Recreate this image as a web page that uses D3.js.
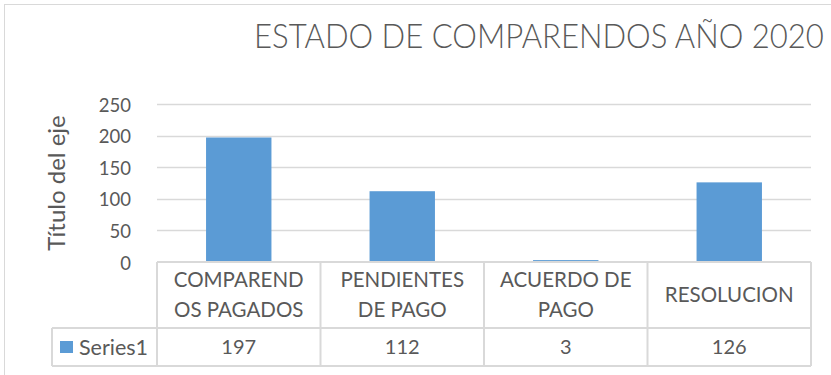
<!DOCTYPE html>
<html>
<head>
<meta charset="utf-8">
<script src="https://cdn.jsdelivr.net/npm/d3@7/dist/d3.min.js"></script>
<style>
  html, body { margin: 0; padding: 0; background: #ffffff; }
  svg { display: block; }
  text { font-family: Lato, "Open Sans", sans-serif; fill: #595959; }
</style>
</head>
<body>
<svg id="chart" width="831" height="375"></svg>
<script>
// Chart data
const categories = ["COMPARENDOS PAGADOS", "PENDIENTES DE PAGO", "ACUERDO DE PAGO", "RESOLUCION"];
const categoryLines = [["COMPAREND", "OS PAGADOS"], ["PENDIENTES", "DE PAGO"], ["ACUERDO DE", "PAGO"], ["RESOLUCION"]];
const seriesName = "Series1";
const values = [197, 112, 3, 126];
const yTicks = [0, 50, 100, 150, 200, 250];
const chartTitle = "ESTADO DE COMPARENDOS AÑO 2020";
const yAxisTitle = "Título del eje";

const svg = d3.select("#chart");
const gridColor = "#d9d9d9";
const barColor = "#5b9bd5";

// Outer chart frame (continues past the visible area on the right and bottom)
svg.append("rect")
  .attr("x", 4.5).attr("y", 4.5)
  .attr("width", 900).attr("height", 420)
  .attr("fill", "#ffffff")
  .attr("stroke", gridColor).attr("stroke-width", 1);

// Plot area
const plotLeft = 157, plotRight = 811, plotTop = 104, plotBottom = 262;

const x = d3.scaleBand().domain(categories).range([plotLeft, plotRight]).paddingInner(0).paddingOuter(0);
const y = d3.scaleLinear().domain([0, 250]).range([plotBottom, plotTop]);

// Title: condensed horizontally so it spans the available width
const titleLeft = 254, titleWidth = 570;
const titleG = svg.append("g");
const titleText = titleG.append("text")
  .attr("x", 0).attr("y", 0)
  .attr("font-size", 34).attr("font-weight", 300)
  .text(chartTitle);
const natural = titleText.node().getComputedTextLength();
const sx = Math.min(1, titleWidth / natural);
titleG.attr("transform", `translate(${titleLeft},47.5) scale(${sx},1)`);

// Horizontal gridlines
svg.append("g").selectAll("line")
  .data(yTicks.filter(t => t > 0))
  .join("line")
  .attr("x1", plotLeft).attr("x2", plotRight)
  .attr("y1", d => Math.round(y(d)) + 0.5).attr("y2", d => Math.round(y(d)) + 0.5)
  .attr("stroke", gridColor).attr("stroke-width", 1.5);

// Y axis tick labels
const yAxis = d3.axisLeft(y).tickValues(yTicks).tickSize(0).tickPadding(0);
const gy = svg.append("g").attr("transform", `translate(131,0)`).call(yAxis);
gy.select(".domain").remove();
gy.selectAll("text")
  .attr("font-size", 18.5)
  .attr("fill", "#595959")
  .style("font-family", "Lato, 'Open Sans', sans-serif")
  .attr("dy", "0.38em");

// Y axis title
svg.append("text")
  .attr("transform", `translate(65,183) rotate(-90)`)
  .attr("text-anchor", "middle")
  .attr("font-size", 24)
  .text(yAxisTitle);

// Bars
const barW = x.bandwidth() * 0.4;
svg.append("g").selectAll("rect")
  .data(values)
  .join("rect")
  .attr("x", (d, i) => x(categories[i]) + (x.bandwidth() - barW) / 2)
  .attr("y", d => y(d))
  .attr("width", barW)
  .attr("height", d => y(0) - y(d))
  .attr("fill", barColor);

// Data table below the plot
const rowTop = plotBottom, headerBottom = 328, tableBottom = 366, tableLeft = 52;
const table = svg.append("g").attr("stroke", gridColor).attr("stroke-width", 2).attr("fill", "none");
// horizontal rules
table.append("line").attr("x1", plotLeft).attr("x2", plotRight).attr("y1", rowTop).attr("y2", rowTop);
table.append("line").attr("x1", tableLeft).attr("x2", plotRight).attr("y1", headerBottom).attr("y2", headerBottom);
table.append("line").attr("x1", tableLeft).attr("x2", plotRight).attr("y1", tableBottom).attr("y2", tableBottom);
// vertical rules
table.append("line").attr("x1", tableLeft).attr("x2", tableLeft).attr("y1", headerBottom).attr("y2", tableBottom);
const colEdges = categories.map(c => x(c)).concat([plotRight]);
table.selectAll("line.col").data(colEdges).join("line").attr("class", "col")
  .attr("x1", d => d).attr("x2", d => d)
  .attr("y1", rowTop).attr("y2", tableBottom);

// Category header cells
const headers = svg.append("g");
categoryLines.forEach((lines, i) => {
  const cx = x(categories[i]) + x.bandwidth() / 2;
  const mid = (rowTop + headerBottom) / 2;
  const lh = 29.5;
  const startY = mid - (lines.length - 1) * lh / 2;
  lines.forEach((ln, j) => {
    headers.append("text")
      .attr("x", cx).attr("y", startY + j * lh)
      .attr("dy", "0.35em")
      .attr("text-anchor", "middle")
      .attr("font-size", 20.5)
      .text(ln);
  });
});

// Series row: legend key + values
const rowMid = (headerBottom + tableBottom) / 2;
svg.append("rect")
  .attr("x", 60).attr("y", rowMid - 6)
  .attr("width", 13).attr("height", 12)
  .attr("fill", barColor);
svg.append("text")
  .attr("x", 79).attr("y", rowMid).attr("dy", "0.35em")
  .attr("font-size", 21.5)
  .text(seriesName);
svg.append("g").selectAll("text")
  .data(values)
  .join("text")
  .attr("x", (d, i) => x(categories[i]) + x.bandwidth() / 2)
  .attr("y", rowMid).attr("dy", "0.35em")
  .attr("text-anchor", "middle")
  .attr("font-size", 20)
  .text(d => d);
</script>
</body>
</html>
